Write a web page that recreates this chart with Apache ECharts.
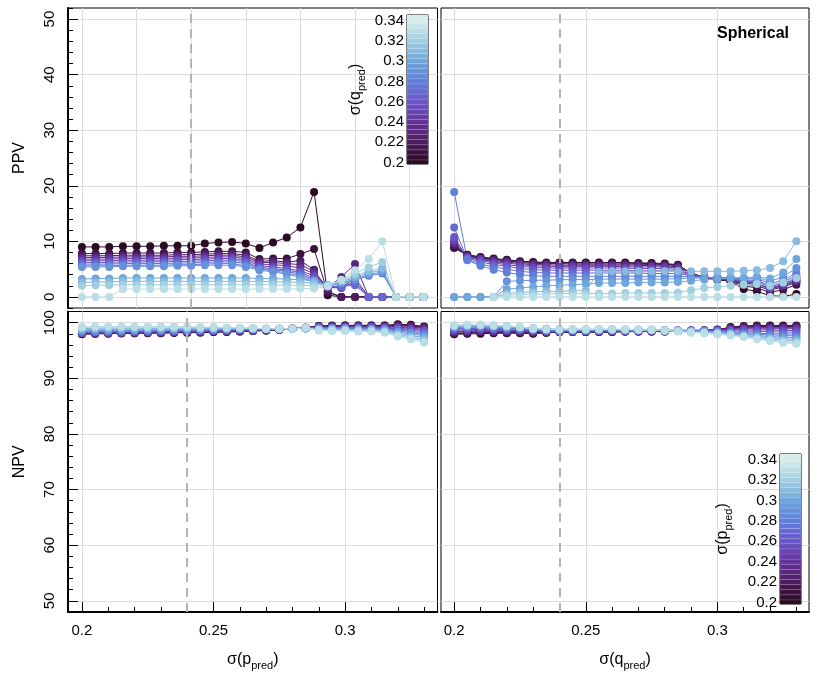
<!DOCTYPE html>
<html>
<head>
<meta charset="utf-8">
<script src="https://cdn.jsdelivr.net/npm/echarts@6/dist/echarts.min.js"></script>
<style>
html, body { margin: 0; padding: 0; background: #fff; }
#chart { width: 820px; height: 675px; }
</style>
</head>
<body>
<div id="chart"></div>
<script>
// sigma levels of the other predictor (one line each)
var levels = [0.2, 0.21, 0.22, 0.23, 0.24, 0.25, 0.26, 0.27, 0.28, 0.29, 0.3, 0.31, 0.32, 0.33];
var xTopLeft = [0.2, 0.205, 0.21, 0.215, 0.22, 0.225, 0.23, 0.235, 0.24, 0.245, 0.25, 0.255, 0.26,
    0.265, 0.27, 0.275, 0.28, 0.285, 0.29, 0.295, 0.3, 0.305, 0.31, 0.315, 0.32, 0.325];
var xFull = [0.2, 0.205, 0.21, 0.215, 0.22, 0.225, 0.23, 0.235, 0.24, 0.245, 0.25, 0.255, 0.26,
    0.265, 0.27, 0.275, 0.28, 0.285, 0.29, 0.295, 0.3, 0.305, 0.31, 0.315, 0.32, 0.325, 0.33];
var cutoff = 0.24;

// PPV vs sigma(p_pred), one row per sigma(q_pred)
var ppvByP = [
    [9.0, 9.0, 9.0, 9.1, 9.1, 9.1, 9.2, 9.2, 9.2, 9.6, 9.8, 9.9, 9.6, 8.8, 9.8, 10.7, 12.5, 18.9, 0.3, 0, 0, 0, 0, 0, 0, 0],
    [7.8, 7.8, 7.8, 7.9, 7.9, 7.9, 7.9, 8.0, 8.0, 8.1, 8.2, 8.2, 8.0, 6.8, 6.9, 6.9, 7.7, 8.6, 0.8, 0, 0, 0, 0, 0, 0, 0],
    [7.4, 7.4, 7.4, 7.5, 7.5, 7.5, 7.5, 7.6, 7.6, 7.7, 7.8, 7.8, 7.5, 6.4, 6.5, 6.3, 6.5, 4.9, 1.0, 0, 0, 0, 0, 0, 0, 0],
    [7.1, 7.1, 7.1, 7.2, 7.2, 7.2, 7.2, 7.3, 7.3, 7.4, 7.5, 7.5, 7.2, 6.2, 6.2, 6.0, 5.8, 4.6, 1.6, 3.6, 5.9, 0, 0, 0, 0, 0],
    [6.8, 6.8, 6.8, 6.9, 6.9, 6.9, 6.9, 7.0, 7.0, 7.1, 7.2, 7.2, 6.9, 5.9, 5.8, 5.6, 5.2, 4.2, 1.7, 1.6, 3.4, 0, 0, 0, 0, 0],
    [6.5, 6.5, 6.5, 6.6, 6.6, 6.6, 6.6, 6.7, 6.7, 6.8, 6.9, 6.9, 6.6, 5.6, 5.4, 5.1, 4.7, 3.8, 1.8, 1.7, 2.8, 0, 0, 0, 0, 0],
    [6.2, 6.2, 6.2, 6.3, 6.3, 6.3, 6.3, 6.4, 6.4, 6.5, 6.6, 6.6, 6.3, 5.3, 5.1, 4.8, 4.4, 3.4, 1.9, 1.8, 2.4, 0, 0, 0, 0, 0],
    [5.9, 5.9, 5.9, 6.0, 6.0, 6.0, 6.0, 6.1, 6.1, 6.2, 6.3, 6.3, 6.0, 5.1, 4.9, 4.6, 4.1, 3.1, 1.9, 1.9, 2.1, 0, 0, 0, 0, 0],
    [5.6, 5.6, 5.6, 5.7, 5.7, 5.7, 5.7, 5.8, 5.8, 5.9, 6.0, 6.0, 5.6, 5.0, 4.7, 4.3, 3.8, 2.9, 2.0, 2.4, 3.0, 3.8, 4.2, 0, 0, 0],
    [5.4, 5.4, 5.4, 5.5, 5.5, 5.5, 5.5, 5.6, 5.6, 5.7, 5.7, 5.7, 5.4, 4.8, 4.5, 4.1, 3.5, 2.7, 2.0, 2.5, 3.2, 4.0, 4.5, 0, 0, 0],
    [3.2, 3.3, 3.3, 3.4, 3.4, 3.4, 3.4, 3.4, 3.4, 3.4, 3.4, 3.4, 3.4, 3.3, 3.3, 3.2, 3.1, 2.9, 2.1, 2.7, 3.5, 4.3, 4.8, 0, 0, 0],
    [2.6, 2.7, 2.7, 2.8, 2.8, 2.8, 2.8, 2.8, 2.8, 2.8, 2.8, 2.8, 2.8, 2.8, 2.7, 2.7, 2.6, 2.5, 2.1, 2.8, 3.8, 4.6, 5.2, 0, 0, 0],
    [2.0, 2.1, 2.1, 2.2, 2.2, 2.2, 2.2, 2.2, 2.2, 2.2, 2.2, 2.2, 2.2, 2.2, 2.2, 2.1, 2.1, 2.0, 2.0, 3.0, 4.2, 5.3, 6.3, 0, 0, 0],
    [0, 0, 0, 1.4, 1.4, 1.4, 1.4, 1.4, 1.4, 1.4, 1.4, 1.4, 1.4, 1.4, 1.4, 1.4, 1.5, 1.5, 1.9, 3.1, 4.8, 6.8, 10.0, 0, 0, 0]
];

// PPV vs sigma(q_pred), one row per sigma(p_pred)
var ppvByQ = [
    [9.0, 7.6, 7.2, 6.9, 6.7, 6.4, 6.3, 6.2, 6.2, 6.2, 6.2, 6.2, 6.2, 6.2, 6.1, 6.1, 6.0, 5.8, 4.2, 3.4, 3.1, 2.8, 1.4, 1.0, 0.2, 0.1, 0.5],
    [8.8, 7.5, 7.1, 6.8, 6.6, 6.3, 6.2, 6.1, 6.1, 6.1, 6.1, 6.1, 6.1, 6.1, 6.0, 6.0, 5.9, 5.7, 4.3, 3.5, 3.2, 2.8, 2.0, 1.6, 0.8, 1.3, 2.2],
    [9.3, 7.4, 7.0, 6.7, 6.5, 6.2, 6.0, 6.0, 6.0, 5.9, 5.9, 5.9, 5.9, 5.9, 5.9, 5.8, 5.8, 5.6, 4.3, 3.5, 3.2, 2.9, 2.3, 2.0, 1.2, 1.8, 2.6],
    [9.6, 7.3, 6.9, 6.5, 6.3, 6.0, 5.8, 5.8, 5.7, 5.7, 5.7, 5.7, 5.7, 5.7, 5.7, 5.6, 5.6, 5.4, 4.2, 3.5, 3.2, 3.0, 2.5, 2.3, 1.4, 2.0, 2.8],
    [9.9, 7.2, 6.8, 6.3, 6.1, 5.8, 5.6, 5.5, 5.5, 5.5, 5.5, 5.5, 5.5, 5.4, 5.4, 5.4, 5.4, 5.2, 4.1, 3.5, 3.3, 3.0, 2.6, 2.5, 1.5, 2.1, 3.0],
    [10.3, 7.1, 6.6, 6.1, 5.8, 5.5, 5.3, 5.2, 5.2, 5.2, 5.2, 5.2, 5.2, 5.2, 5.1, 5.1, 5.1, 4.9, 4.0, 3.5, 3.3, 3.1, 2.7, 2.6, 1.6, 2.3, 3.2],
    [10.8, 7.0, 6.3, 5.8, 5.5, 5.1, 4.9, 4.8, 4.8, 4.8, 4.8, 4.8, 4.8, 4.8, 4.7, 4.7, 4.7, 4.6, 3.9, 3.5, 3.4, 3.2, 2.8, 2.8, 1.8, 2.5, 3.4],
    [12.5, 6.8, 5.9, 5.4, 5.0, 4.6, 4.4, 4.3, 4.3, 4.3, 4.3, 4.3, 4.3, 4.3, 4.3, 4.2, 4.2, 4.2, 3.8, 3.5, 3.4, 3.3, 3.0, 3.0, 2.0, 2.7, 3.8],
    [18.9, 6.6, 5.6, 4.9, 4.4, 4.0, 3.8, 3.7, 3.7, 3.7, 3.7, 3.7, 3.7, 3.7, 3.7, 3.7, 3.7, 3.7, 3.6, 3.5, 3.5, 3.4, 3.2, 3.3, 2.4, 3.0, 4.3],
    [0, 0, 0, 0, 2.8, 2.9, 3.0, 3.0, 3.1, 3.1, 3.1, 3.2, 3.2, 3.2, 3.2, 3.2, 3.2, 3.3, 3.4, 3.4, 3.5, 3.5, 3.4, 3.5, 2.8, 3.6, 5.2],
    [0, 0, 0, 0, 1.4, 1.6, 1.8, 2.0, 2.1, 2.2, 2.3, 2.5, 2.5, 2.5, 2.6, 2.6, 2.6, 2.7, 2.9, 3.1, 3.2, 3.4, 3.4, 3.6, 3.3, 4.4, 6.8],
    [null, null, null, 0, 0.6, 0.8, 0.9, 1.0, 1.0, 1.1, 1.1, 4.5, 4.6, 4.6, 4.6, 4.6, 4.6, 4.6, 4.6, 4.6, 4.6, 4.6, 4.7, 4.8, 5.2, 6.4, 10.0],
    [null, null, null, 0, 0.3, 0.4, 0.5, 0.5, 0.6, 0.6, 0.6, 0.6, 0.6, 0.7, 0.7, 0.7, 0.7, 0.8, 1.2, 1.6, 1.8, 2.0, 2.2, 2.3, 2.0, 2.6, 3.4],
    [null, null, null, 0, 0, 0, 0, 0, 0, 0, 0, 0, 0, 0, 0, 0, 0, 0, 0, 0, 0, 0, 0, 0, 0, 0, 0]
];

// NPV vs sigma(p_pred), one row per sigma(q_pred)
var npvByP = [
    [97.9, 98.0, 98.0, 98.1, 98.1, 98.1, 98.1, 98.2, 98.2, 98.2, 98.3, 98.3, 98.4, 98.5, 98.6, 98.7, 98.9, 99.1, 99.4, 99.5, 99.5, 99.5, 99.5, 99.5, 99.7, 99.6, 99.3],
    [98.0, 98.0, 98.1, 98.1, 98.1, 98.2, 98.2, 98.2, 98.2, 98.3, 98.3, 98.4, 98.4, 98.5, 98.6, 98.7, 98.9, 99.1, 99.4, 99.4, 99.5, 99.5, 99.5, 99.5, 99.6, 99.5, 99.2],
    [98.0, 98.1, 98.1, 98.1, 98.2, 98.2, 98.2, 98.2, 98.3, 98.3, 98.4, 98.4, 98.5, 98.6, 98.6, 98.7, 98.9, 99.1, 99.3, 99.4, 99.4, 99.4, 99.4, 99.4, 99.5, 99.4, 99.1],
    [98.1, 98.1, 98.1, 98.2, 98.2, 98.2, 98.3, 98.3, 98.3, 98.4, 98.4, 98.5, 98.5, 98.6, 98.7, 98.8, 98.9, 99.1, 99.3, 99.3, 99.3, 99.3, 99.3, 99.3, 99.3, 99.2, 99.0],
    [98.1, 98.2, 98.2, 98.2, 98.3, 98.3, 98.3, 98.3, 98.4, 98.4, 98.5, 98.5, 98.6, 98.6, 98.7, 98.8, 98.9, 99.0, 99.2, 99.2, 99.3, 99.3, 99.3, 99.2, 99.2, 99.0, 98.8],
    [98.2, 98.2, 98.2, 98.3, 98.3, 98.3, 98.4, 98.4, 98.4, 98.5, 98.5, 98.6, 98.6, 98.7, 98.7, 98.8, 98.9, 99.0, 99.2, 99.2, 99.2, 99.2, 99.2, 99.1, 99.0, 98.8, 98.6],
    [98.2, 98.3, 98.3, 98.3, 98.4, 98.4, 98.4, 98.5, 98.5, 98.5, 98.6, 98.6, 98.7, 98.7, 98.8, 98.8, 98.9, 99.0, 99.1, 99.1, 99.1, 99.1, 99.1, 99.0, 98.9, 98.6, 98.4],
    [98.3, 98.3, 98.4, 98.4, 98.4, 98.5, 98.5, 98.5, 98.6, 98.6, 98.6, 98.7, 98.7, 98.8, 98.8, 98.8, 98.9, 99.0, 99.1, 99.1, 99.1, 99.0, 99.0, 98.9, 98.7, 98.4, 98.2],
    [98.4, 98.4, 98.5, 98.5, 98.5, 98.6, 98.6, 98.6, 98.7, 98.7, 98.7, 98.8, 98.8, 98.8, 98.8, 98.9, 98.9, 99.0, 99.0, 99.0, 99.0, 98.9, 98.9, 98.8, 98.5, 98.2, 97.9],
    [98.5, 98.6, 98.6, 98.6, 98.7, 98.7, 98.7, 98.7, 98.8, 98.8, 98.8, 98.8, 98.9, 98.9, 98.9, 98.9, 98.9, 99.0, 98.9, 98.9, 98.9, 98.8, 98.8, 98.7, 98.3, 98.0, 97.6],
    [98.7, 98.8, 98.8, 98.8, 98.8, 98.9, 98.9, 98.9, 98.9, 98.9, 98.9, 98.9, 98.9, 98.9, 98.9, 98.9, 98.9, 99.0, 98.8, 98.8, 98.8, 98.7, 98.7, 98.6, 98.1, 97.7, 97.3],
    [98.9, 99.0, 99.0, 99.0, 99.0, 99.0, 99.0, 99.0, 99.0, 99.0, 99.0, 99.0, 99.0, 99.0, 98.9, 98.9, 98.9, 99.0, 98.7, 98.7, 98.7, 98.6, 98.6, 98.4, 97.9, 97.4, 97.0],
    [99.1, 99.2, 99.2, 99.2, 99.2, 99.2, 99.2, 99.2, 99.2, 99.1, 99.1, 99.1, 99.0, 99.0, 98.9, 98.9, 98.9, 99.1, 98.7, 98.6, 98.6, 98.5, 98.5, 98.3, 97.7, 97.2, 96.7],
    [99.2, 99.3, 99.3, 99.3, 99.3, 99.3, 99.3, 99.3, 99.3, 99.2, 99.2, 99.1, 99.1, 99.0, 98.9, 98.9, 98.9, 99.1, 98.6, 98.5, 98.5, 98.4, 98.4, 98.2, 97.5, 97.0, 96.4]
];

// NPV vs sigma(q_pred), one row per sigma(p_pred)
var npvByQ = [
    [97.9, 98.0, 98.0, 98.1, 98.1, 98.1, 98.0, 98.2, 98.3, 98.3, 98.3, 98.3, 98.3, 98.4, 98.4, 98.4, 98.4, 98.5, 98.5, 98.6, 98.7, 99.2, 99.4, 99.5, 99.5, 99.5, 99.5],
    [98.0, 98.1, 98.2, 98.2, 98.2, 98.2, 98.1, 98.2, 98.3, 98.3, 98.3, 98.3, 98.3, 98.4, 98.4, 98.4, 98.4, 98.5, 98.5, 98.6, 98.7, 99.1, 99.3, 99.4, 99.4, 99.4, 99.4],
    [98.1, 98.2, 98.3, 98.3, 98.3, 98.3, 98.2, 98.3, 98.3, 98.3, 98.3, 98.4, 98.4, 98.4, 98.4, 98.4, 98.5, 98.5, 98.6, 98.6, 98.7, 99.0, 99.2, 99.3, 99.3, 99.3, 99.3],
    [98.3, 98.4, 98.5, 98.4, 98.4, 98.4, 98.3, 98.3, 98.4, 98.4, 98.4, 98.4, 98.4, 98.4, 98.5, 98.5, 98.5, 98.5, 98.6, 98.6, 98.7, 98.9, 99.1, 99.1, 99.1, 99.1, 99.1],
    [98.4, 98.5, 98.6, 98.5, 98.5, 98.5, 98.4, 98.4, 98.4, 98.4, 98.4, 98.4, 98.5, 98.5, 98.5, 98.5, 98.5, 98.6, 98.6, 98.6, 98.7, 98.8, 98.9, 98.9, 98.9, 98.9, 98.9],
    [98.6, 98.7, 98.8, 98.7, 98.6, 98.6, 98.5, 98.4, 98.4, 98.4, 98.5, 98.5, 98.5, 98.5, 98.5, 98.5, 98.6, 98.6, 98.6, 98.6, 98.6, 98.7, 98.7, 98.7, 98.7, 98.6, 98.6],
    [98.8, 98.9, 99.0, 98.8, 98.7, 98.7, 98.6, 98.5, 98.5, 98.5, 98.5, 98.5, 98.5, 98.5, 98.6, 98.6, 98.6, 98.6, 98.6, 98.6, 98.6, 98.5, 98.5, 98.4, 98.4, 98.3, 98.3],
    [98.9, 99.0, 99.1, 99.0, 98.9, 98.8, 98.7, 98.6, 98.5, 98.5, 98.5, 98.6, 98.6, 98.6, 98.6, 98.6, 98.6, 98.6, 98.6, 98.5, 98.5, 98.4, 98.2, 98.1, 98.0, 98.0, 97.9],
    [99.1, 99.2, 99.3, 99.1, 99.0, 98.9, 98.7, 98.6, 98.6, 98.6, 98.6, 98.6, 98.6, 98.6, 98.6, 98.6, 98.6, 98.6, 98.5, 98.5, 98.4, 98.2, 98.0, 97.9, 97.8, 97.7, 97.6],
    [99.2, 99.3, 99.4, 99.3, 99.1, 99.0, 98.8, 98.7, 98.6, 98.6, 98.6, 98.7, 98.7, 98.7, 98.7, 98.7, 98.6, 98.6, 98.5, 98.4, 98.3, 98.1, 97.9, 97.7, 97.5, 97.4, 97.3],
    [99.3, 99.4, 99.5, 99.4, 99.2, 99.1, 98.9, 98.8, 98.7, 98.7, 98.7, 98.7, 98.7, 98.7, 98.7, 98.7, 98.6, 98.5, 98.4, 98.3, 98.2, 98.0, 97.7, 97.5, 97.3, 97.1, 97.0],
    [99.4, 99.5, 99.5, 99.4, 99.3, 99.2, 99.0, 98.9, 98.8, 98.8, 98.8, 98.8, 98.8, 98.7, 98.7, 98.7, 98.6, 98.5, 98.4, 98.3, 98.1, 97.9, 97.6, 97.3, 97.1, 96.8, 96.7],
    [99.5, 99.6, 99.6, 99.5, 99.4, 99.2, 99.0, 98.9, 98.8, 98.8, 98.8, 98.8, 98.8, 98.8, 98.7, 98.7, 98.6, 98.5, 98.3, 98.2, 98.0, 97.8, 97.5, 97.2, 96.9, 96.6, 96.4],
    [99.5, 99.6, 99.6, 99.5, 99.4, 99.2, 98.9, 98.8, 98.8, 98.8, 98.8, 98.8, 98.8, 98.8, 98.7, 98.7, 98.6, 98.4, 98.2, 98.1, 97.9, 97.7, 97.4, 97.0, 96.7, 96.4, 96.2]
];

// ticks, grid lines and colour bar bands
var xMinorTicks = [0.2, 0.21, 0.22, 0.23, 0.24, 0.25, 0.26, 0.27, 0.28, 0.29, 0.3, 0.31, 0.32, 0.33];
var xMajorTicks = [0.2, 0.25, 0.3];
var xGridTopLeft = [0.2, 0.22, 0.24, 0.26, 0.28, 0.3, 0.32];
var yTicksPPV = [0, 10, 20, 30, 40, 50];
var yTicksNPV = [50, 60, 70, 80, 90, 100];
var barTicks = [0.2, 0.22, 0.24, 0.26, 0.28, 0.3, 0.32, 0.34];
var barBands = [0.2, 0.205, 0.21, 0.215, 0.22, 0.225, 0.23, 0.235, 0.24, 0.245, 0.25, 0.255, 0.26, 0.265, 0.27,
    0.275, 0.28, 0.285, 0.29, 0.295, 0.3, 0.305, 0.31, 0.315, 0.32, 0.325, 0.33, 0.335, 0.34, 0.345];

var colorStops = ['#2a0b1f', '#4d1c5e', '#64339a', '#6a55c8', '#607fd9', '#6fa6dc', '#9fcfe0', '#d8ecec'];
function levelColor(v) {
    var t = Math.max(0, Math.min(1, (v - 0.2) / 0.14));
    return echarts.color.lerp(t, colorStops);
}

var font = 'Liberation Sans';
var gridLine = { show: true, lineStyle: { color: '#dcdcdc', width: 1 } };
var subRich = {
    a: { fontSize: 16, fontFamily: font, color: '#000', padding: [0, 0, 3, 0], verticalAlign: 'bottom' },
    b: { fontSize: 11, fontFamily: font, color: '#000', verticalAlign: 'bottom' }
};

var chart = echarts.init(document.getElementById('chart'));

function gridAxis(gridIndex, min, max, grid) {
    return {
        type: 'value', gridIndex: gridIndex, min: min, max: max,
        axisLine: { show: false }, axisLabel: { show: false },
        axisTick: { show: false, customValues: grid },
        splitLine: gridLine
    };
}
function minorAxis(gridIndex, min, max, pos, opts) {
    var a = {
        type: 'value', gridIndex: gridIndex, min: min, max: max, position: pos,
        axisLine: { show: false }, axisLabel: { show: false },
        axisTick: { show: true, inside: true, length: 5, lineStyle: { color: '#000' } },
        splitLine: { show: false }
    };
    for (var k in opts) a.axisTick[k] = opts[k];
    return a;
}
function mainAxis(gridIndex, min, max, pos, ticks, name, nameGap, rotate) {
    return {
        type: 'value', gridIndex: gridIndex, min: min, max: max, position: pos,
        axisLine: { show: true, lineStyle: { color: '#000', width: 2 } },
        axisTick: { show: true, inside: true, length: 10, customValues: ticks, lineStyle: { color: '#000' } },
        axisLabel: { customValues: ticks, rotate: rotate, margin: 11, fontSize: 15, fontFamily: font, color: '#000' },
        splitLine: gridLine,
        name: name, nameLocation: 'middle', nameGap: nameGap, nameRotate: pos === 'left' ? 90 : 0,
        nameTextStyle: { fontSize: 16, fontFamily: font, color: '#000', rich: subRich }
    };
}
function barAxis(gridIndex, name, nameGap) {
    return {
        type: 'value', gridIndex: gridIndex, min: 0.1985, max: 0.3455, position: 'left',
        axisLine: { show: false }, axisTick: { show: false, customValues: barTicks },
        axisLabel: { customValues: barTicks, margin: 3, fontSize: 15, fontFamily: font, color: '#000' },
        splitLine: { show: false },
        name: name, nameLocation: 'middle', nameGap: nameGap, nameRotate: 90,
        nameTextStyle: { rich: subRich }
    };
}
function hiddenAxis(gridIndex) {
    return { type: 'value', gridIndex: gridIndex, min: 0, max: 1, show: false };
}

var xAxes = [
    gridAxis(0, 0.1949, 0.3302, xGridTopLeft),
    gridAxis(1, 0.195, 0.3348, xMajorTicks),
    mainAxis(2, 0.1947, 0.3351, 'bottom', xMajorTicks, '{a|σ(p}{b|pred}{a|)}', 40, 0),
    minorAxis(2, 0.1947, 0.3351, 'bottom', { customValues: xMinorTicks }),
    mainAxis(3, 0.195, 0.3348, 'bottom', xMajorTicks, '{a|σ(q}{b|pred}{a|)}', 40, 0),
    minorAxis(3, 0.195, 0.3348, 'bottom', { customValues: xMinorTicks }),
    hiddenAxis(4),
    hiddenAxis(5)
];
var yAxes = [
    mainAxis(0, -2, 52, 'left', yTicksPPV, 'PPV', 40, 90),
    minorAxis(0, -2, 52, 'left', {}),
    gridAxis(1, -2, 52, yTicksPPV),
    mainAxis(2, 48, 102, 'left', yTicksNPV, 'NPV', 40, 90),
    minorAxis(2, 48, 102, 'left', {}),
    gridAxis(3, 48, 102, yTicksNPV),
    barAxis(4, '{a|σ(q}{b|pred}{a|)}', 40),
    barAxis(5, '{a|σ(p}{b|pred}{a|)}', 46)
];
yAxes[1].interval = 2;
yAxes[4].interval = 2;

var series = [];
function addPanel(xi, yi, xs, rows) {
    series.push({
        type: 'line', xAxisIndex: xi, yAxisIndex: yi, data: [], z: 1, silent: true,
        markLine: {
            silent: true, symbol: 'none', label: { show: false }, animation: false,
            lineStyle: { color: '#b4b4b4', type: [9, 6], width: 2 },
            data: [{ xAxis: cutoff }]
        }
    });
    rows.forEach(function (row, k) {
        var c = levelColor(levels[k]), pts = [];
        row.forEach(function (v, i) {
            if (v !== null) pts.push([xs[i], v]);
        });
        series.push({
            type: 'line', xAxisIndex: xi, yAxisIndex: yi, z: 2,
            symbol: 'circle', symbolSize: 8, showSymbol: true,
            lineStyle: { color: c, width: 1 }, itemStyle: { color: c },
            emphasis: { disabled: true }, data: pts
        });
    });
}
addPanel(0, 0, xTopLeft, ppvByP);
addPanel(1, 2, xFull, ppvByQ);
addPanel(2, 3, xFull, npvByP);
addPanel(4, 5, xFull, npvByQ);

function colorBar(xi, yi) {
    return {
        type: 'custom', xAxisIndex: xi, yAxisIndex: yi, z: 10, clip: true, silent: true,
        data: barBands.map(function (v) { return [v]; }),
        renderItem: function (params, api) {
            var v = api.value(0);
            var p0 = api.coord([0, v - 0.0025]);
            var p1 = api.coord([1, v + 0.0025]);
            return {
                type: 'rect',
                shape: { x: p0[0], y: p1[1], width: p1[0] - p0[0], height: p0[1] - p1[1] },
                style: { fill: levelColor(v), stroke: 'rgba(255,255,255,0.2)', lineWidth: 0.5 }
            };
        }
    };
}
series.push(colorBar(6, 6));
series.push(colorBar(7, 7));

var border = { show: true, borderColor: '#000', borderWidth: 1, backgroundColor: 'transparent' };
chart.setOption({
    animation: false,
    backgroundColor: '#fff',
    title: {
        text: 'Spherical', right: 26, top: 21,
        textStyle: { fontSize: 16, fontWeight: 'bold', fontFamily: font, color: '#000' }
    },
    grid: [
        Object.assign({ left: 68, top: 8, width: 369.5, height: 300 }, border),
        Object.assign({ left: 441, top: 8, width: 368, height: 300 }, border),
        Object.assign({ left: 68, top: 311.5, width: 369.5, height: 300.5 }, border),
        Object.assign({ left: 441, top: 311.5, width: 368, height: 300.5 }, border),
        Object.assign({ left: 407, top: 15, width: 21, height: 149, z: 5 }, border),
        Object.assign({ left: 780, top: 454, width: 21, height: 150, z: 5 }, border)
    ],
    xAxis: xAxes,
    yAxis: yAxes,
    series: series
});
</script>
</body>
</html>
